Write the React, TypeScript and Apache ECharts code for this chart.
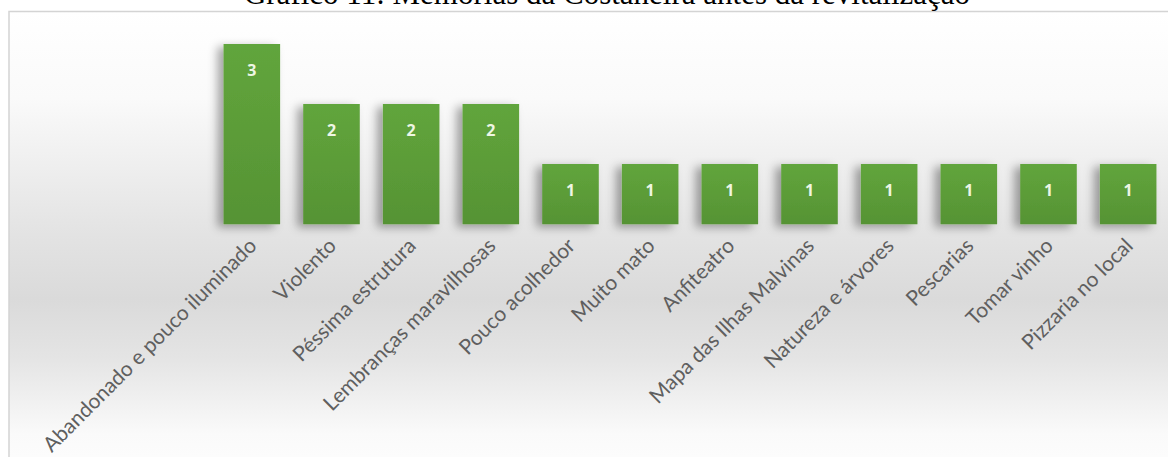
import React, { useEffect, useRef } from "react";
import * as echarts from "echarts";

const titleText = "Gráfico 11: Memórias da Costaneira antes da revitalização";
const categories = [
  "Abandonado e pouco iluminado",
  "Violento",
  "Péssima estrutura",
  "Lembranças maravilhosas",
  "Pouco acolhedor",
  "Muito mato",
  "Anfiteatro",
  "Mapa das Ilhas Malvinas",
  "Natureza e árvores",
  "Pescarias",
  "Tomar vinho",
  "Pizzaria no local",
];
const values = [3, 2, 2, 2, 1, 1, 1, 1, 1, 1, 1, 1];

export default function App() {
  const ref = useRef<HTMLDivElement>(null);
  useEffect(() => {
    document.body.style.margin = "0";
    if (!ref.current) return;
    const chart = echarts.init(ref.current, null, { renderer: "svg" });
    chart.setOption({
      animation: false,
      backgroundColor: "#ffffff",
      graphic: [
        {
          type: "rect",
          z: -10,
          shape: { x: 9, y: 11.5, width: 1200, height: 480 },
          style: {
            fill: new echarts.graphic.LinearGradient(0, 0, 0, 1, [
              { offset: 0, color: "#ffffff" },
              { offset: 0.18, color: "#fafafa" },
              { offset: 0.45, color: "#e4e4e4" },
              { offset: 0.6, color: "#dadada" },
              { offset: 0.72, color: "#e4e4e4" },
              { offset: 0.88, color: "#fafafa" },
              { offset: 1, color: "#ffffff" },
            ]),
            stroke: "#d4d4d4",
            lineWidth: 1.5,
          },
        },
        {
          type: "text",
          x: 607,
          y: -7,
          style: {
            text: titleText,
            fontFamily: "Liberation Serif",
            fontSize: 31,
            fill: "#000000",
            align: "center",
            verticalAlign: "middle",
          },
        },
      ],
      grid: { left: 212, width: 966, top: 44, height: 182 },
      xAxis: {
        type: "category",
        data: categories,
        axisLine: { show: false },
        axisTick: { show: false },
        axisLabel: {
          rotate: 45,
          interval: 0,
          margin: 17,
          color: "#5f5f5f",
          fontFamily: "Lato",
          fontSize: 21,
        },
      },
      yAxis: {
        type: "value",
        min: 0,
        max: 3,
        show: false,
        splitLine: { show: false },
      },
      series: [
        {
          type: "bar",
          data: values,
          barCategoryGap: "29%",
          itemStyle: {
            color: new echarts.graphic.LinearGradient(0, 0, 0, 1, [
              { offset: 0, color: "#61a53c" },
              { offset: 1, color: "#569334" },
            ]),
            shadowBlur: 10,
            shadowColor: "rgba(0,0,0,0.35)",
            shadowOffsetX: -6,
            shadowOffsetY: 3,
          },
          label: {
            show: true,
            position: "insideTop",
            distance: 18,
            color: "#eef6e4",
            fontFamily: "Open Sans",
            fontWeight: "bold",
            fontSize: 16,
          },
        },
      ],
    });
    return () => chart.dispose();
  }, []);
  return <div ref={ref} style={{ width: 1168, height: 457 }} />;
}
